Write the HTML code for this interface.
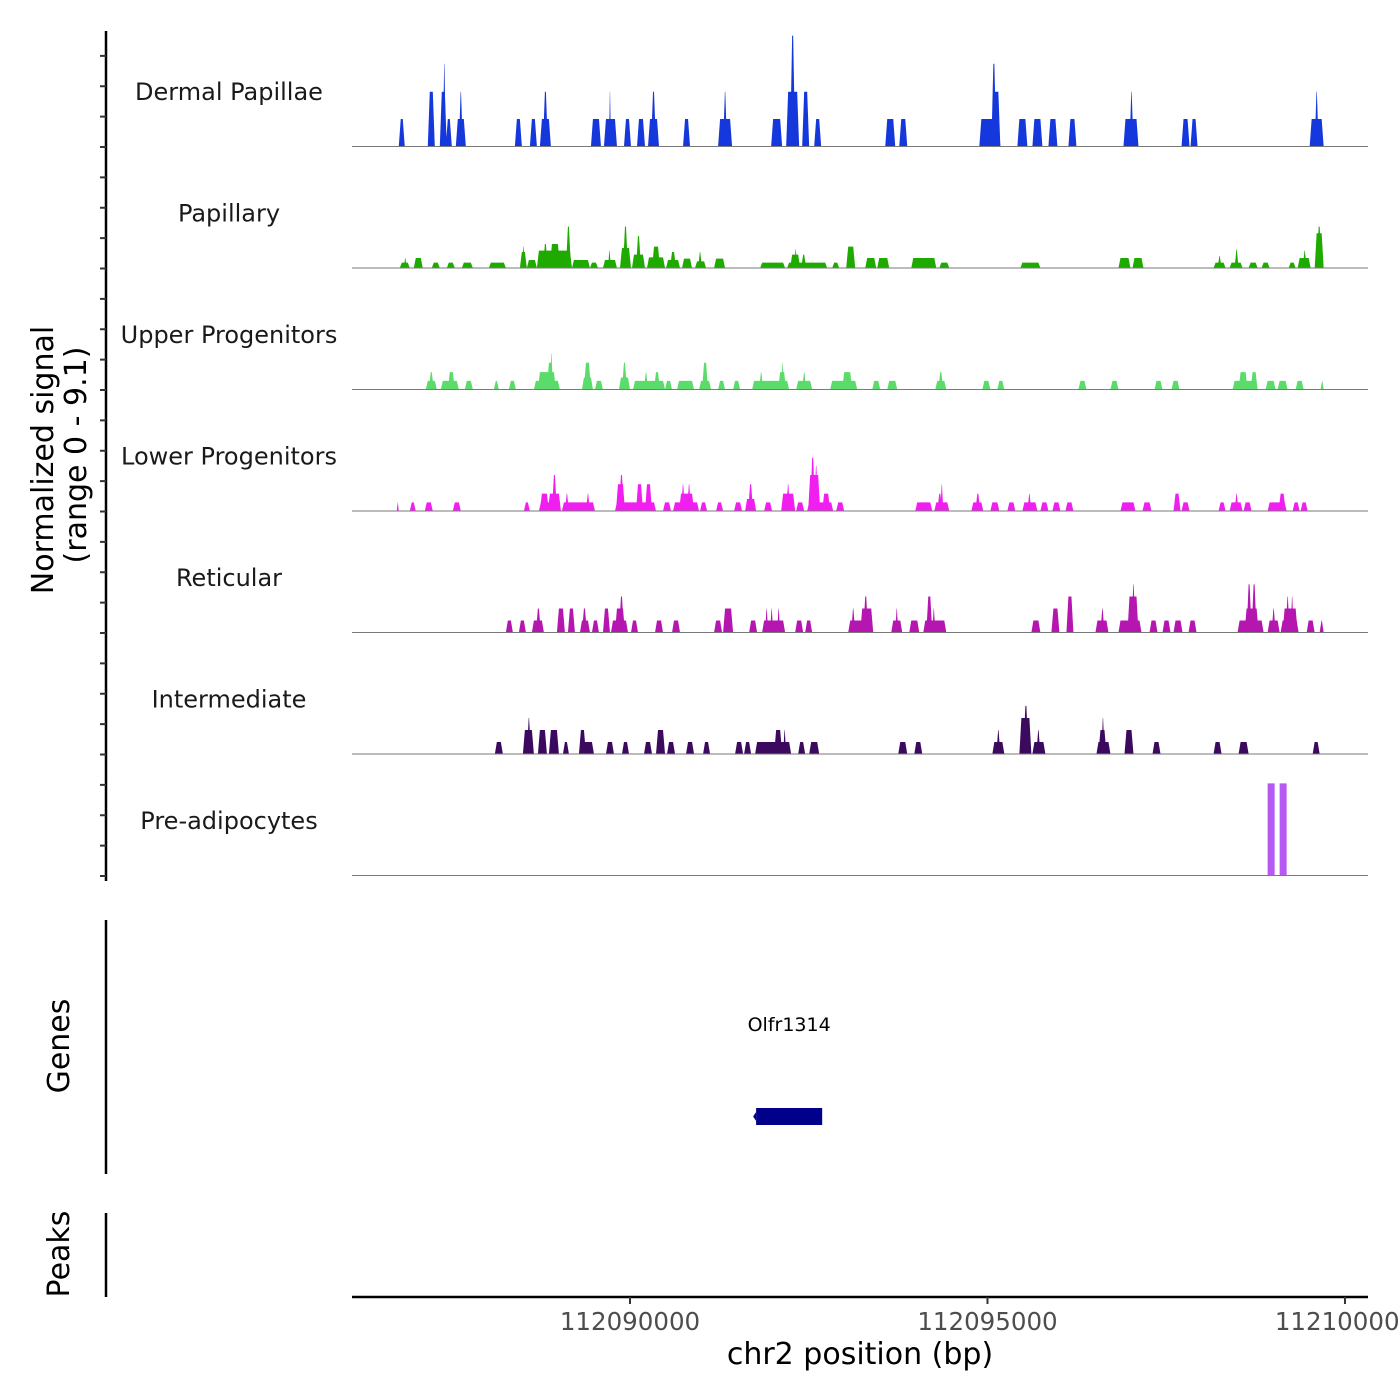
<!DOCTYPE html>
<html><head><meta charset="utf-8"><style>
html,body{margin:0;padding:0;background:#fff;}
svg{display:block;font-family:"DejaVu Sans","Liberation Sans",sans-serif;}
</style></head><body>
<svg id="chart" width="1400" height="1400" viewBox="0 0 1400 1400" xmlns="http://www.w3.org/2000/svg">
<rect width="1400" height="1400" fill="#fff"/>
<g id="tracks"></g>
<g id="yaxis"></g>
<text transform="translate(53,460) rotate(-90)" text-anchor="middle" font-size="30" fill="#000">Normalized signal</text>
<text transform="translate(86,455) rotate(-90)" text-anchor="middle" font-size="30" fill="#000">(range 0 - 9.1)</text>
<line x1="106" y1="920" x2="106" y2="1174" stroke="#000" stroke-width="2.5"/>
<text transform="translate(69,1046) rotate(-90)" text-anchor="middle" font-size="30" fill="#000">Genes</text>
<g id="genes"></g>
<line x1="106" y1="1213" x2="106" y2="1297" stroke="#000" stroke-width="2.5"/>
<text transform="translate(69,1254) rotate(-90)" text-anchor="middle" font-size="30" fill="#000">Peaks</text>
<g id="xaxis"></g>
<text x="860" y="1364" text-anchor="middle" font-size="30" fill="#000">chr2 position (bp)</text>
</svg>
<script>
// genomic positions: bp relative to chr2:112,090,000 ; values: normalized signal
const anchor = 112090000;
const xDomain = [112086112, 112100322];
const xTicks = [112090000, 112095000, 112100000];
const yMax = 9.1;
const trackNames = ["Dermal Papillae","Papillary","Upper Progenitors","Lower Progenitors","Reticular","Intermediate","Pre-adipocytes"];
const trackColors = ["#1538dc","#1faa00","#5bdc6a","#f01ff0","#b516b0","#3b0a5e","#b659f2"];
const dermalPapillae = [[-3234,-3150,2.06],[-2828,-2730,4.1],[-2660,-2562,4.1],[-2618,-2576,6.2],[-2576,-2492,2.06],[-2436,-2296,2.06],[-2394,-2338,4.1],[-1610,-1512,2.06],[-1400,-1302,2.06],[-1260,-1106,2.06],[-1218,-1148,4.1],[-546,-406,2.06],[-364,-182,2.06],[-294,-266,4.1],[-84,14,2.06],[98,210,2.06],[252,406,2.06],[294,364,4.1],[742,840,2.06],[1232,1428,2.06],[1302,1358,4.1],[1974,2128,2.06],[2184,2366,4.1],[2240,2310,8.3],[2408,2506,4.1],[2576,2674,2.06],[3570,3710,2.06],[3766,3878,2.06],[4886,5180,2.06],[5068,5180,4.1],[5054,5124,6.2],[5418,5558,2.06],[5628,5768,2.06],[5852,5978,2.06],[6132,6244,2.06],[6902,7112,2.06],[6986,7042,4.1],[7714,7826,2.06],[7840,7938,2.06],[9506,9702,2.06],[9576,9632,4.1]];
const papillary = [[-3220,-3080,0.4],[-3164,-3122,0.75],[-3024,-2898,0.75],[-2772,-2660,0.4],[-2562,-2450,0.4],[-2352,-2198,0.4],[-1974,-1736,0.4],[-1540,-1442,1.2],[-1512,-1470,1.6],[-1442,-1302,0.6],[-1302,-812,1.3],[-1218,-1148,1.8],[-1120,-980,1.8],[-896,-826,3.1],[-812,-560,0.6],[-560,-448,0.4],[-378,-182,0.6],[-308,-266,1.3],[-140,14,1.5],[-98,-28,3.1],[28,210,1.0],[84,154,2.4],[238,490,0.8],[308,420,1.6],[504,700,0.6],[560,644,1.2],[728,868,0.7],[910,1064,0.5],[952,1008,1.2],[1176,1330,0.7],[1820,2170,0.4],[2198,2758,0.4],[2240,2380,1.0],[2296,2338,1.4],[2394,2464,1.0],[2828,2926,0.4],[3024,3150,1.6],[3290,3444,0.75],[3458,3626,0.75],[3934,4284,0.75],[4326,4466,0.4],[5460,5740,0.4],[6832,7000,0.75],[7028,7182,0.75],[8162,8330,0.4],[8218,8274,0.9],[8386,8568,0.4],[8456,8512,1.4],[8652,8778,0.4],[8834,8946,0.4],[9212,9310,0.4],[9338,9520,0.75],[9408,9464,1.3],[9576,9702,2.6],[9604,9674,3.1]];
const upperProgenitors = [[-2856,-2702,0.65],[-2814,-2744,1.3],[-2646,-2394,0.65],[-2548,-2450,1.3],[-2310,-2198,0.65],[-1904,-1834,0.65],[-1694,-1596,0.65],[-1344,-980,0.65],[-1288,-1036,1.3],[-1162,-1078,2.0],[-1120,-1078,2.7],[-672,-518,0.9],[-644,-546,2.0],[-490,-378,0.65],[-154,0,0.9],[-112,-42,2.0],[42,490,0.65],[196,252,1.3],[336,420,1.3],[490,588,0.65],[658,896,0.65],[966,1134,0.65],[1008,1092,2.0],[1232,1330,0.65],[1442,1540,0.65],[1708,2226,0.65],[1806,1862,1.3],[2072,2184,1.3],[2114,2156,2.0],[2324,2548,0.65],[2408,2464,1.3],[2800,3178,0.65],[2968,3108,1.3],[3388,3500,0.65],[3598,3738,0.65],[4270,4424,0.65],[4312,4382,1.3],[4928,5040,0.65],[5138,5236,0.65],[6272,6384,0.65],[6720,6832,0.65],[7336,7448,0.65],[7574,7686,0.65],[8428,8778,0.65],[8512,8638,1.3],[8680,8778,1.3],[8890,9030,0.65],[9058,9198,0.65],[9310,9422,0.65],[9660,9702,0.65]];
const lowerProgenitors = [[-3262,-3234,0.65],[-3080,-2996,0.65],[-2870,-2758,0.65],[-2478,-2366,0.65],[-1484,-1400,0.65],[-1274,-966,0.65],[-1260,-1134,1.3],[-1148,-966,1.3],[-1092,-1022,2.7],[-952,-490,0.65],[-910,-854,1.3],[-616,-560,1.3],[-210,364,0.65],[-196,-70,2.0],[-154,-84,2.7],[84,182,2.0],[210,308,2.0],[462,574,0.65],[602,966,0.65],[686,896,1.3],[714,770,2.0],[798,854,2.0],[980,1078,0.65],[1204,1302,0.65],[1456,1568,0.65],[1610,1764,0.9],[1652,1722,2.0],[1876,1988,0.65],[2114,2310,1.3],[2184,2240,2.0],[2324,2436,0.65],[2478,2842,0.65],[2492,2660,2.7],[2520,2590,4.0],[2576,2632,3.4],[2688,2800,1.3],[2884,2996,0.65],[3990,4228,0.65],[4256,4466,0.65],[4298,4368,1.3],[4340,4382,2.0],[4774,4942,0.65],[4830,4900,1.3],[5040,5166,0.65],[5278,5390,0.65],[5488,5698,0.65],[5558,5614,1.3],[5740,5852,0.65],[5908,6020,0.65],[6090,6202,0.65],[6860,7070,0.65],[7168,7294,0.65],[7602,7700,1.3],[7714,7826,0.65],[8232,8330,0.65],[8386,8568,0.65],[8456,8512,1.3],[8582,8694,0.65],[8918,9184,0.65],[9072,9170,1.3],[9268,9366,0.65],[9380,9478,0.65]];
const reticular = [[-1736,-1638,0.9],[-1554,-1456,0.9],[-1372,-1204,0.9],[-1316,-1246,1.8],[-1022,-910,1.8],[-868,-770,1.8],[-700,-560,0.9],[-672,-602,1.8],[-532,-434,0.9],[-378,-280,1.8],[-266,-28,0.9],[-210,-70,1.8],[-154,-84,2.7],[14,112,0.9],[350,462,0.9],[588,700,0.9],[1176,1288,0.9],[1302,1442,1.8],[1666,1778,0.9],[1848,2170,0.9],[1890,1932,1.8],[1960,2002,1.8],[2058,2100,1.8],[2310,2422,0.9],[2450,2548,0.9],[3052,3402,0.9],[3094,3150,1.8],[3220,3402,1.8],[3262,3332,2.7],[3654,3808,0.9],[3710,3752,1.8],[3906,4046,0.9],[4102,4424,0.9],[4144,4228,2.7],[4228,4270,1.8],[5614,5740,0.9],[5894,6006,1.8],[6104,6202,2.7],[6510,6692,0.9],[6580,6636,1.8],[6832,7154,0.9],[6958,7112,2.7],[7014,7070,3.6],[7266,7378,0.9],[7448,7560,0.9],[7602,7728,0.9],[7812,7924,0.9],[8498,8862,0.9],[8596,8792,1.8],[8624,8694,3.6],[8694,8764,3.6],[8918,9086,0.9],[8974,9030,1.8],[9100,9352,0.9],[9128,9338,1.8],[9170,9226,2.7],[9240,9282,2.7],[9464,9576,0.9],[9646,9702,0.9]];
const intermediate = [[-1890,-1778,0.9],[-1498,-1344,1.8],[-1442,-1386,2.7],[-1288,-1162,1.8],[-1134,-994,1.8],[-938,-854,0.9],[-714,-504,0.9],[-714,-616,1.8],[-336,-224,0.9],[-112,-14,0.9],[196,308,0.9],[364,490,1.8],[518,630,0.9],[784,896,0.9],[1022,1120,0.9],[1470,1582,0.9],[1596,1694,0.9],[1750,2254,0.9],[2016,2128,1.8],[2142,2184,1.8],[2352,2450,0.9],[2506,2646,0.9],[3752,3878,0.9],[3976,4088,0.9],[5068,5236,0.9],[5124,5180,1.8],[5446,5614,2.7],[5502,5572,3.6],[5628,5810,0.9],[5684,5740,1.8],[6524,6720,0.9],[6552,6664,1.8],[6594,6636,2.7],[6916,7042,1.8],[7308,7420,0.9],[8162,8274,0.9],[8512,8652,0.9],[9548,9646,0.9]];
const preAdipocytes = [[8918,9016,6.9],[9086,9184,6.9]];
const geneName = "Olfr1314";
const geneStart = 1764, geneEnd = 2688;

const NS = "http://www.w3.org/2000/svg";
const X0 = 352, X1 = 1368, TOP = 25, TRACK_H = 121.5;
function xs(bpAbs){ return X0 + (bpAbs - xDomain[0]) * (X1 - X0) / (xDomain[1] - xDomain[0]); }
function xr(rel){ return xs(anchor + rel); }
function ys(v, i){ const b = TOP + (i + 1) * TRACK_H; return b - v / yMax * TRACK_H; }
function mk(tag, attrs, parent){ const e = document.createElementNS(NS, tag); for (const k in attrs) e.setAttribute(k, attrs[k]); parent.appendChild(e); return e; }

const tracksG = document.getElementById('tracks');
const allTracks = [dermalPapillae, papillary, upperProgenitors, lowerProgenitors, reticular, intermediate, preAdipocytes];
allTracks.forEach((segs, i) => {
  const g = mk('g', {}, tracksG);
  
  
  const lbl = mk('text', {x: 229, y: TOP + i * TRACK_H + 75, 'text-anchor': 'middle', 'font-size': 24, fill: '#1a1a1a'}, g);
  lbl.textContent = trackNames[i];
  
  
  const b = ys(0, i);
  const rect = (i === 6);
  segs.forEach(s => {
    const x0 = xr(s[0]), x1 = xr(s[1]), y = ys(s[2], i);
    const sl = rect ? 0 : Math.min((x1 - x0) * 0.45, 2);
    const p = mk('polygon', {points: `${x0},${b} ${x0+sl},${y} ${x1-sl},${y} ${x1},${b}`, fill: trackColors[i]}, g);
    
    
  });
  const bl = mk('line', {x1: X0, x2: X1, y1: b, y2: b, stroke: '#7a7a7a', 'stroke-width': 1}, g);
  
  
});

const yG = document.getElementById('yaxis');
const yl = mk('line', {x1: 106, x2: 106, y1: 31, y2: 881, stroke: '#000', 'stroke-width': 2.5}, yG);


for (let i = 0; i < 7; i++) {
  for (let k = 0; k < 4; k++) {
    const y = TOP + (i + 1) * TRACK_H - k * TRACK_H / 4 + 0.5;
    const t = mk('line', {x1: 100, x2: 106, y1: y, y2: y, stroke: '#333', 'stroke-width': 2}, yG);
    
    
  }
}

const gG = document.getElementById('genes');
const gl = mk('text', {x: (xr(geneStart) + xr(geneEnd)) / 2, y: 1031, 'text-anchor': 'middle', 'font-size': 19, fill: '#000'}, gG);
gl.textContent = geneName;


const gb = mk('rect', {x: xr(geneStart), y: 1108, width: xr(geneEnd) - xr(geneStart), height: 17, fill: '#00008b'}, gG);


const ga = mk('polygon', {points: `${xr(geneStart)-3},1116.5 ${xr(geneStart)},1112 ${xr(geneStart)},1121`, fill: '#00008b'}, gG);



const xG = document.getElementById('xaxis');
const xl = mk('line', {x1: X0, x2: X1, y1: 1297, y2: 1297, stroke: '#000', 'stroke-width': 2.5}, xG);


xTicks.forEach(v => {
  const x = xs(v);
  const t = mk('line', {x1: x, x2: x, y1: 1297, y2: 1304, stroke: '#333', 'stroke-width': 2}, xG);
  
  
  const tx = mk('text', {x: x, y: 1330, 'text-anchor': 'middle', 'font-size': 24.5, fill: '#4d4d4d'}, xG);
  tx.textContent = String(v);
  
  
});
</script>
</body></html>
